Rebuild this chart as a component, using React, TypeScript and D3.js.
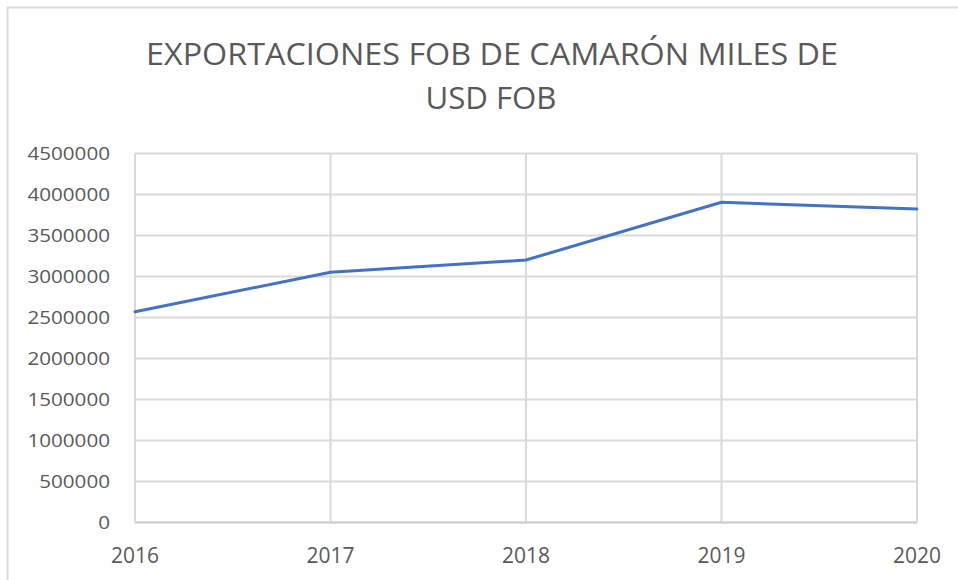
import React from "react";
import * as d3 from "d3";

const years = ["2016", "2017", "2018", "2019", "2020"];
const values = [2571000, 3051000, 3201000, 3905000, 3823000];
const yTicks = [0, 500000, 1000000, 1500000, 2000000, 2500000, 3000000, 3500000, 4000000, 4500000];
const titleLines = ["EXPORTACIONES FOB DE CAMARÓN MILES DE", "USD FOB"];

const W = 958;
const H = 580;
const left = 135;
const right = 917;
const top = 153.5;
const bottom = 522.5;
const font = "'Open Sans', 'Liberation Sans', sans-serif";

export default function App() {
  const x = d3.scalePoint<string>().domain(years).range([left, right]);
  const y = d3.scaleLinear().domain([0, 4500000]).range([bottom, top]);
  const line = d3
    .line<number>()
    .x((_, i) => x(years[i]) as number)
    .y((d) => y(d));

  return (
    <svg
      width={W}
      height={H}
      style={{ position: "absolute", left: 0, top: 0, background: "#fff" }}
    >
      <rect x={0} y={0} width={W} height={H} fill="#fff" />
      <line x1={7} y1={7.5} x2={W} y2={7.5} stroke="#d9d9d9" strokeWidth={2} />
      <line x1={7.5} y1={7} x2={7.5} y2={H} stroke="#d9d9d9" strokeWidth={2} />

      <text x={492} y={64.5} textAnchor="middle" fontFamily={font} fontSize={31} fill="#595959" textLength={692} lengthAdjust="spacingAndGlyphs">
        {titleLines[0]}
      </text>
      <text x={491} y={109} textAnchor="middle" fontFamily={font} fontSize={31} fill="#595959" textLength={131} lengthAdjust="spacingAndGlyphs">
        {titleLines[1]}
      </text>

      {yTicks.map((t) => (
        <line key={"gy" + t} x1={left} x2={right} y1={y(t)} y2={y(t)} stroke="#d9d9d9" strokeWidth={2} />
      ))}
      {years.map((yr) => (
        <line key={"gx" + yr} x1={x(yr)} x2={x(yr)} y1={top} y2={bottom} stroke="#d9d9d9" strokeWidth={2} />
      ))}
      <line x1={left} x2={right} y1={y(0)} y2={y(0)} stroke="#cfcfcf" strokeWidth={2} />

      {yTicks.map((t) => {
        const label = String(t);
        return (
          <text
            key={"ty" + t}
            x={110}
            y={y(t) + 6.5}
            textAnchor="end"
            fontFamily={font}
            fontSize={19}
            fill="#595959"
            textLength={label.length * 11.8}
            lengthAdjust="spacingAndGlyphs"
          >
            {label}
          </text>
        );
      })}
      {years.map((yr) => (
        <text
          key={"tx" + yr}
          x={x(yr)}
          y={563}
          textAnchor="middle"
          fontFamily={font}
          fontSize={21}
          fill="#595959"
          textLength={48}
          lengthAdjust="spacingAndGlyphs"
        >
          {yr}
        </text>
      ))}

      <path d={line(values) || ""} fill="none" stroke="#4472C4" strokeWidth={3} strokeLinejoin="round" strokeLinecap="round" />
    </svg>
  );
}
